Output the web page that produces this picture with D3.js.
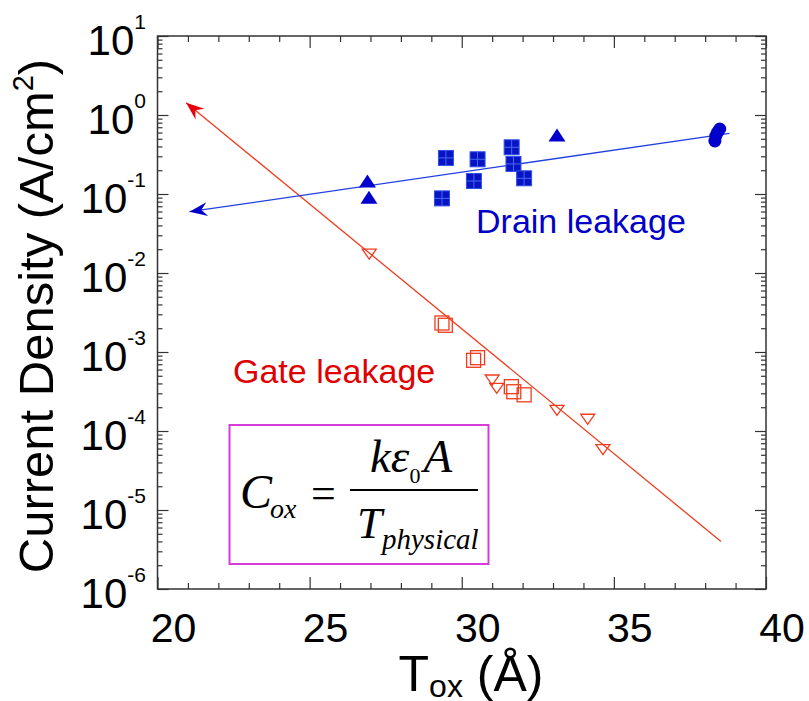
<!DOCTYPE html>
<html>
<head>
<meta charset="utf-8">
<script src="https://cdn.jsdelivr.net/npm/d3@7"></script>
<style>
  body { margin: 0; background: #fff; }
  svg { display: block; }
</style>
</head>
<body>
<script>
// chart size
var width = 809;
var height = 701;

// ---- data (T_ox in Angstrom, current density in A/cm2) ----
var drainTriangles = [[26.9, 0.146], [26.95, 0.091], [33.13, 0.56]];
var drainSquares = [[29.48, 0.286], [30.52, 0.275], [31.64, 0.39], [31.7, 0.24],
                    [32.05, 0.158], [30.4, 0.146], [29.35, 0.088]];
var drainCircles = [[38.48, 0.665], [38.4, 0.6], [38.35, 0.542], [38.32, 0.469]];
var drainFit = [[21.05, 0.0597], [38.8, 0.586]];

var gateTriangles = [[26.96, 0.0178], [31.0, 4.55e-4], [31.15, 3.57e-4],
                     [33.13, 1.88e-4], [34.14, 1.45e-4], [34.64, 6.0e-5]];
var gateSquares = [[29.35, 2.33e-3], [29.46, 2.18e-3], [30.39, 7.85e-4], [30.52, 8.47e-4],
                   [31.63, 3.64e-4], [31.71, 3.14e-4], [32.05, 2.87e-4]];
var gateFit = [[20.94, 1.43], [38.52, 4.0e-6]];

var xMajor = [20, 25, 30, 35, 40];
var yExponents = [1, 0, -1, -2, -3, -4, -5, -6];

// ---- layout ----
var margin = {left: 157.5, right: 766, top: 36, bottom: 589};

var x = d3.scaleLinear().domain([20, 40]).range([margin.left, margin.right]);
var y = d3.scaleLog().domain([1e-6, 10]).range([margin.bottom, margin.top]);

var blue = "#0000cc";
var red = "#f03c1e";
var sans = "'Liberation Sans', Arial, sans-serif";
var serif = "'Liberation Serif', 'Times New Roman', serif";

var svg = d3.select("body").append("svg")
  .attr("width", width)
  .attr("height", height);

// minor tick values
var xMinor = d3.range(20, 41, 1).filter(function(v) { return v % 5 != 0; });
var yMinor = [];
for (var e = -6; e < 1; e++) {
  for (var m = 2; m < 10; m++) yMinor.push(m * Math.pow(10, e));
}
var yMajor = yExponents.map(function(e) { return Math.pow(10, e); });

// axes: ticks point inward on all four sides
function drawAxis(axis, tx, ty) {
  var g = svg.append("g")
    .attr("transform", "translate(" + tx + "," + ty + ")")
    .call(axis);
  g.select(".domain").remove();
  g.selectAll("line").attr("stroke", "#333").attr("stroke-width", 1.2);
  g.selectAll("text").remove();
  return g;
}
drawAxis(d3.axisBottom(x).tickValues(xMajor).tickSizeInner(-12).tickSizeOuter(0), 0, margin.bottom);
drawAxis(d3.axisBottom(x).tickValues(xMinor).tickSizeInner(-6).tickSizeOuter(0), 0, margin.bottom);
drawAxis(d3.axisTop(x).tickValues(xMajor).tickSizeInner(-12).tickSizeOuter(0), 0, margin.top);
drawAxis(d3.axisTop(x).tickValues(xMinor).tickSizeInner(-6).tickSizeOuter(0), 0, margin.top);
drawAxis(d3.axisLeft(y).tickValues(yMajor).tickSizeInner(-11).tickSizeOuter(0), margin.left, 0);
drawAxis(d3.axisLeft(y).tickValues(yMinor).tickSizeInner(-5).tickSizeOuter(0), margin.left, 0);
drawAxis(d3.axisRight(y).tickValues(yMajor).tickSizeInner(-11).tickSizeOuter(0), margin.right, 0);
drawAxis(d3.axisRight(y).tickValues(yMinor).tickSizeInner(-5).tickSizeOuter(0), margin.right, 0);

// frame
svg.append("rect")
  .attr("x", margin.left).attr("y", margin.top)
  .attr("width", margin.right - margin.left)
  .attr("height", margin.bottom - margin.top)
  .attr("fill", "none").attr("stroke", "#333").attr("stroke-width", 1.5);

// x tick labels
svg.selectAll(".xlab")
  .data(xMajor)
  .enter().append("text")
  .attr("class", "xlab")
  .attr("x", function(d) { return x(d) + 16; })
  .attr("y", margin.bottom + 53)
  .attr("text-anchor", "middle")
  .style("font-family", sans).style("font-size", "41px")
  .text(function(d) { return d; });

// y tick labels 10^n
var ylab = svg.selectAll(".ylab")
  .data(yExponents)
  .enter().append("text")
  .attr("class", "ylab")
  .attr("x", 146)
  .attr("y", function(d) { return y(Math.pow(10, d)) + 19; })
  .attr("text-anchor", "end")
  .style("font-family", sans).style("font-size", "42px");
ylab.append("tspan").text("10");
ylab.append("tspan")
  .attr("dy", -26)
  .style("font-size", "21px")
  .text(function(d) { return d; });

// axis titles
var ytitle = svg.append("text")
  .attr("transform", "translate(53,316) rotate(-90)")
  .attr("text-anchor", "middle")
  .style("font-family", sans).style("font-size", "49px");
ytitle.append("tspan").text("Current Density (A/cm");
ytitle.append("tspan").attr("dy", -20).style("font-size", "29px").text("2");
ytitle.append("tspan").attr("dy", 20).text(")");

var xtitle = svg.append("text")
  .attr("x", 471).attr("y", 691)
  .attr("text-anchor", "middle")
  .style("font-family", sans).style("font-size", "50px");
xtitle.append("tspan").text("T");
xtitle.append("tspan").attr("dy", 6).style("font-size", "32px").text("ox");
xtitle.append("tspan").attr("dy", -6).text(" (Å)");

// fit lines with arrow heads at the thin end
function arrowHead(p0, p1, color) {
  var dx = p1[0] - p0[0], dy = p1[1] - p0[1];
  var len = Math.sqrt(dx * dx + dy * dy);
  var ux = dx / len, uy = dy / len;
  var nx = -uy, ny = ux;
  var L = 18, W = 7, N = 12;
  var pts = [
    [p0[0], p0[1]],
    [p0[0] + ux * L + nx * W, p0[1] + uy * L + ny * W],
    [p0[0] + ux * N, p0[1] + uy * N],
    [p0[0] + ux * L - nx * W, p0[1] + uy * L - ny * W]
  ];
  svg.append("path")
    .attr("d", "M" + pts.join("L") + "Z")
    .attr("fill", color);
}

function fitLine(data, color, headColor) {
  var p0 = [x(data[0][0]), y(data[0][1])];
  var p1 = [x(data[1][0]), y(data[1][1])];
  svg.append("line")
    .attr("x1", p0[0]).attr("y1", p0[1])
    .attr("x2", p1[0]).attr("y2", p1[1])
    .attr("stroke", color).attr("stroke-width", 1.3);
  arrowHead(p0, p1, headColor);
}
fitLine(gateFit, red, "#e8000a");
fitLine(drainFit, "#2040e0", blue);

// gate leakage markers (open)
svg.selectAll(".gsq")
  .data(gateSquares)
  .enter().append("rect")
  .attr("x", function(d) { return x(d[0]) - 7; })
  .attr("y", function(d) { return y(d[1]) - 7; })
  .attr("width", 14).attr("height", 14)
  .attr("fill", "none").attr("stroke", red).attr("stroke-width", 1.3);

svg.selectAll(".gtri")
  .data(gateTriangles)
  .enter().append("path")
  .attr("transform", function(d) { return "translate(" + x(d[0]) + "," + y(d[1]) + ")"; })
  .attr("d", "M-7,-4L7,-4L0,6Z")
  .attr("fill", "none").attr("stroke", red).attr("stroke-width", 1.3);

// drain leakage markers (filled)
var sq = svg.selectAll(".dsq")
  .data(drainSquares)
  .enter().append("g")
  .attr("transform", function(d) { return "translate(" + x(d[0]) + "," + y(d[1]) + ")"; });
sq.append("rect")
  .attr("x", -7.5).attr("y", -7.5).attr("width", 15).attr("height", 15)
  .attr("fill", "#0814c4").attr("stroke", "#3050e8").attr("stroke-width", 1);
sq.append("path")
  .attr("d", "M0,-7.5V7.5M-7.5,0H7.5")
  .attr("stroke", "#4868f0").attr("stroke-width", 1);

svg.selectAll(".dtri")
  .data(drainTriangles)
  .enter().append("path")
  .attr("transform", function(d) { return "translate(" + x(d[0]) + "," + y(d[1]) + ")"; })
  .attr("d", "M-8.5,6.5L8.5,6.5L0,-6.5Z")
  .attr("fill", blue);

svg.selectAll(".dcir")
  .data(drainCircles)
  .enter().append("circle")
  .attr("cx", function(d) { return x(d[0]); })
  .attr("cy", function(d) { return y(d[1]); })
  .attr("r", 6.5)
  .attr("fill", blue);

// series labels
svg.append("text")
  .attr("x", 476).attr("y", 233)
  .style("font-family", sans).style("font-size", "34px")
  .attr("fill", "#0000c8")
  .text("Drain leakage");

svg.append("text")
  .attr("x", 233).attr("y", 383)
  .style("font-family", sans).style("font-size", "34px")
  .attr("fill", "#e00000")
  .text("Gate leakage");

// formula box
svg.append("rect")
  .attr("x", 229.5).attr("y", 425).attr("width", 259).attr("height", 139)
  .attr("fill", "#fff").attr("stroke", "#d83cd8").attr("stroke-width", 2);

var f = svg.append("g").style("font-family", serif).style("font-style", "italic");
f.append("text").attr("x", 240).attr("y", 508).style("font-size", "48px").text("C");
f.append("text").attr("x", 270).attr("y", 518).style("font-size", "28px").text("ox");
f.append("text").attr("x", 311).attr("y", 508).style("font-size", "44px")
  .style("font-style", "normal").text("=");
f.append("line").attr("x1", 350).attr("x2", 478).attr("y1", 490).attr("y2", 490)
  .attr("stroke", "#000").attr("stroke-width", 2);
var num = f.append("text").attr("x", 370).attr("y", 472).style("font-size", "47px");
num.append("tspan").text("kε");
num.append("tspan").attr("dy", 11).style("font-size", "22px").style("font-style", "normal").text("0");
num.append("tspan").attr("dy", -11).attr("dx", 3).text("A");
f.append("text").attr("x", 357).attr("y", 538).style("font-size", "45px").text("T");
f.append("text").attr("x", 382).attr("y", 549).style("font-size", "29px").text("physical");
</script>
</body>
</html>
